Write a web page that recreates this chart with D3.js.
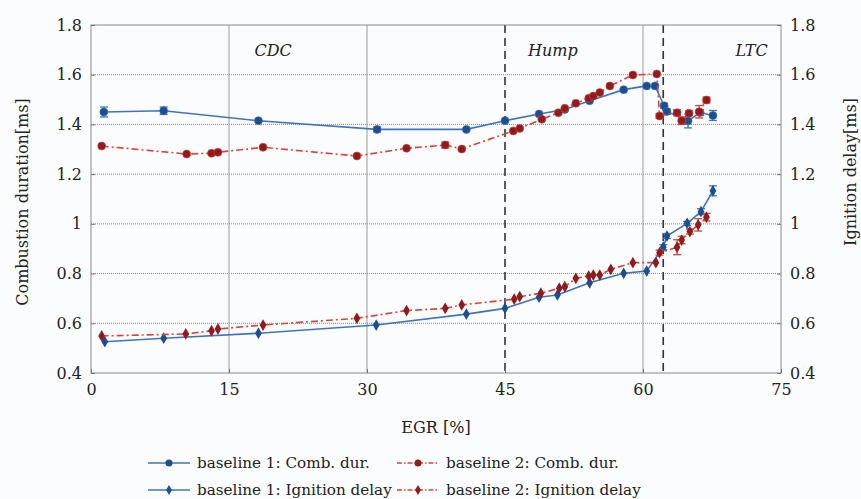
<!DOCTYPE html>
<html><head><meta charset="utf-8">
<script src="https://cdn.jsdelivr.net/npm/d3@7"></script>
<style>body{margin:0;background:#fbfcfe;} svg text{font-family:"DejaVu Serif",serif !important;}</style>
</head><body><svg id="c" width="861" height="499"></svg>
<script>
// ---- data ----
const xTicks = [0, 15, 30, 45, 60, 75];
const yTicks = [0.4, 0.6, 0.8, 1, 1.2, 1.4, 1.6, 1.8];
const regionLines = [45, 62.2];
const regionLabels = ["CDC", "Hump", "LTC"];
const regionLabelX = [19.8, 50.2, 71.8];

const b1CombX = [1.4, 7.9, 18.2, 31.1, 40.8, 45.0, 48.7, 51.5, 54.2, 57.9, 60.4, 61.3, 62.3, 62.6, 64.9, 66.2, 67.6];
const b1CombY = [1.45, 1.455, 1.415, 1.38, 1.38, 1.415, 1.442, 1.46, 1.495, 1.54, 1.555, 1.555, 1.475, 1.452, 1.414, 1.448, 1.436];
const b1CombE = [0.02, 0.015, 0.005, 0.01, 0.005, 0.005, 0.005, 0.005, 0.005, 0.005, 0.005, 0.005, 0.01, 0.01, 0.028, 0.012, 0.02];

const b2CombX = [1.16, 10.4, 13.1, 13.8, 18.7, 28.9, 34.3, 38.5, 40.3, 45.9, 46.6, 49.0, 50.8, 51.5, 52.7, 54.1, 54.6, 55.3, 56.4, 58.9, 61.5, 61.8, 63.7, 64.2, 65.0, 66.1, 66.9];
const b2CombY = [1.313, 1.281, 1.284, 1.288, 1.308, 1.273, 1.304, 1.317, 1.301, 1.374, 1.384, 1.421, 1.447, 1.465, 1.485, 1.505, 1.514, 1.528, 1.555, 1.599, 1.603, 1.434, 1.447, 1.415, 1.445, 1.451, 1.498];
const b2CombE = [0.005, 0.005, 0.005, 0.005, 0.005, 0.005, 0.005, 0.012, 0.005, 0.005, 0.005, 0.005, 0.005, 0.005, 0.005, 0.005, 0.005, 0.005, 0.005, 0.005, 0.005, 0.01, 0.012, 0.015, 0.01, 0.025, 0.012];

const b1IgnX = [1.5, 7.9, 18.2, 31.0, 40.8, 45.0, 48.7, 50.7, 54.2, 57.9, 60.4, 62.2, 62.6, 64.8, 66.3, 67.6];
const b1IgnY = [0.526, 0.54, 0.56, 0.593, 0.637, 0.66, 0.705, 0.714, 0.763, 0.801, 0.81, 0.906, 0.951, 1.002, 1.049, 1.133];
const b1IgnE = [0.005, 0.005, 0.005, 0.005, 0.005, 0.005, 0.005, 0.005, 0.005, 0.005, 0.005, 0.01, 0.01, 0.008, 0.012, 0.02];

const b2IgnX = [1.16, 10.3, 13.1, 13.8, 18.7, 28.9, 34.3, 38.5, 40.3, 46.0, 46.6, 48.9, 50.9, 51.5, 52.7, 54.1, 54.6, 55.3, 56.5, 58.9, 61.4, 61.8, 63.7, 64.2, 65.1, 66.0, 66.9];
const b2IgnY = [0.549, 0.557, 0.57, 0.577, 0.593, 0.62, 0.651, 0.66, 0.674, 0.697, 0.707, 0.721, 0.741, 0.747, 0.781, 0.79, 0.794, 0.794, 0.817, 0.844, 0.844, 0.884, 0.906, 0.935, 0.969, 0.996, 1.027];
const b2IgnE = [0.005, 0.005, 0.005, 0.005, 0.005, 0.005, 0.005, 0.005, 0.005, 0.005, 0.005, 0.005, 0.005, 0.005, 0.005, 0.005, 0.005, 0.005, 0.005, 0.005, 0.005, 0.01, 0.03, 0.015, 0.01, 0.025, 0.015];

const legendLabels = ["baseline 1: Comb. dur.", "baseline 2: Comb. dur.", "baseline 1: Ignition delay", "baseline 2: Ignition delay"];

// ---- layout ----
const svg = d3.select("#c");
const L = 91, R = 781, T = 25, B = 373;
const x = d3.scaleLinear().domain([0, 75]).range([L, R]);
const y = d3.scaleLinear().domain([0.4, 1.8]).range([B, T]);

const blueLine = "#3f74bd", blueMark = "#1d4f8f";
const redLine = "#d8443c", redMark = "#8e1c1c";
const FF = "'DejaVu Serif', serif";

// grid
const g = svg.append("g");
g.selectAll(".hg").data(yTicks.slice(1, -1)).join("line")
  .attr("x1", L).attr("x2", R).attr("y1", d => y(d)).attr("y2", d => y(d))
  .attr("stroke", "#8a8a8a").attr("stroke-width", 1).attr("stroke-dasharray", "1 1");
g.selectAll(".vg").data([15, 30, 60]).join("line")
  .attr("x1", d => x(d)).attr("x2", d => x(d)).attr("y1", T).attr("y2", B)
  .attr("stroke", "#9a9a9a").attr("stroke-width", 1);
g.selectAll(".rl").data(regionLines).join("line")
  .attr("x1", d => x(d)).attr("x2", d => x(d)).attr("y1", T).attr("y2", B)
  .attr("stroke", "#333").attr("stroke-width", 1.6).attr("stroke-dasharray", "8 5");

// frame
svg.append("rect").attr("x", L).attr("y", T).attr("width", R - L).attr("height", B - T)
  .attr("fill", "none").attr("stroke", "#8a8a8a").attr("stroke-width", 1);

// axes (ticks inward)
const axB = svg.append("g").attr("transform", `translate(0,${B})`)
  .call(d3.axisBottom(x).tickValues(xTicks).tickSize(-4).tickPadding(8).tickFormat(d3.format("d")));
const axL = svg.append("g").attr("transform", `translate(${L},0)`)
  .call(d3.axisLeft(y).tickValues(yTicks).tickSize(-4).tickPadding(9).tickFormat(d => d3.format("")(d)));
const axR = svg.append("g").attr("transform", `translate(${R},0)`)
  .call(d3.axisRight(y).tickValues(yTicks).tickSize(-4).tickPadding(9).tickFormat(d => d3.format("")(d)));
[axB, axL, axR].forEach(a => {
  a.attr("font-family", FF);
  a.select(".domain").remove();
  a.selectAll(".tick line").attr("stroke", "#777");
  a.selectAll("text").attr("font-size", 16).attr("fill", "#222");
});
axB.selectAll("text").attr("dy", "0.9em");

// region labels
svg.selectAll(".rlab").data(regionLabels).join("text")
  .attr("font-family", FF)
  .attr("x", (d, i) => x(regionLabelX[i])).attr("y", 56).attr("text-anchor", "middle")
  .attr("font-size", 16).attr("font-style", "italic").attr("fill", "#222").text(d => d);

// axis titles
svg.append("text").attr("font-family", FF).attr("x", x(37.5)).attr("y", 433).attr("text-anchor", "middle")
  .attr("font-size", 16).attr("fill", "#222").text("EGR [%]");
svg.append("text").attr("font-family", FF).attr("transform", `translate(28,202) rotate(-90)`).attr("text-anchor", "middle")
  .attr("font-size", 16).attr("fill", "#222").text("Combustion duration[ms]");
svg.append("text").attr("font-family", FF).attr("transform", `translate(856,172) rotate(-90)`).attr("text-anchor", "middle")
  .attr("font-size", 16).attr("fill", "#222").text("Ignition delay[ms]");

// series
const series = [
  {xs: b1CombX, ys: b1CombY, es: b1CombE, lc: blueLine, mc: blueMark, dash: null, mark: "circle"},
  {xs: b2CombX, ys: b2CombY, es: b2CombE, lc: redLine, mc: redMark, dash: "7 3 2 3", mark: "circle"},
  {xs: b1IgnX, ys: b1IgnY, es: b1IgnE, lc: blueLine, mc: blueMark, dash: null, mark: "diamond"},
  {xs: b2IgnX, ys: b2IgnY, es: b2IgnE, lc: redLine, mc: redMark, dash: "7 3 2 3", mark: "diamond"}
];
const lineGen = d3.line().x(d => x(d[0])).y(d => y(d[1]));
series.forEach(s => {
  const pts = s.xs.map((v, i) => [v, s.ys[i], s.es[i]]);
  const sg = svg.append("g");
  sg.append("path").datum(pts).attr("d", lineGen).attr("fill", "none")
    .attr("stroke", s.lc).attr("stroke-width", 1.6).attr("stroke-dasharray", s.dash);
  pts.filter(p => p[2] > 0.006).forEach(p => {
    const eg = sg.append("g").attr("stroke", s.lc).attr("stroke-width", 1.3);
    eg.append("line").attr("x1", x(p[0])).attr("x2", x(p[0])).attr("y1", y(p[1] - p[2])).attr("y2", y(p[1] + p[2]));
    eg.append("line").attr("x1", x(p[0]) - 4).attr("x2", x(p[0]) + 4).attr("y1", y(p[1] - p[2])).attr("y2", y(p[1] - p[2]));
    eg.append("line").attr("x1", x(p[0]) - 4).attr("x2", x(p[0]) + 4).attr("y1", y(p[1] + p[2])).attr("y2", y(p[1] + p[2]));
  });
  if (s.mark === "circle") {
    sg.selectAll("circle").data(pts).join("circle")
      .attr("cx", d => x(d[0])).attr("cy", d => y(d[1])).attr("r", 4)
      .attr("fill", s.mc).attr("stroke", s.lc).attr("stroke-width", 0.6);
  } else {
    sg.selectAll(".dm").data(pts).join("path")
      .attr("transform", d => `translate(${x(d[0])},${y(d[1])})`)
      .attr("d", d3.symbol(d3.symbolDiamond, 40)).attr("fill", s.mc);
  }
});

// legend
const legPos = [[148, 468], [397, 468], [148, 495], [397, 495]];
legendLabels.forEach((lab, i) => {
  const s = series[i];
  const [lx, ly] = legPos[i];
  const lg = svg.append("g");
  lg.append("line").attr("x1", lx).attr("x2", lx + 42).attr("y1", ly - 5).attr("y2", ly - 5)
    .attr("stroke", s.lc).attr("stroke-width", 1.6).attr("stroke-dasharray", s.dash ? "5 2 1.5 2" : null);
  if (s.mark === "circle") {
    lg.append("circle").attr("cx", lx + 21).attr("cy", ly - 5).attr("r", 3.5).attr("fill", s.mc);
  } else {
    lg.append("path").attr("transform", `translate(${lx + 21},${ly - 5})`)
      .attr("d", d3.symbol(d3.symbolDiamond, 30)).attr("fill", s.mc);
  }
  lg.append("text").attr("font-family", FF).attr("x", lx + 49).attr("y", ly).attr("font-size", 15.2).attr("fill", "#222").text(lab);
});
</script></body></html>
